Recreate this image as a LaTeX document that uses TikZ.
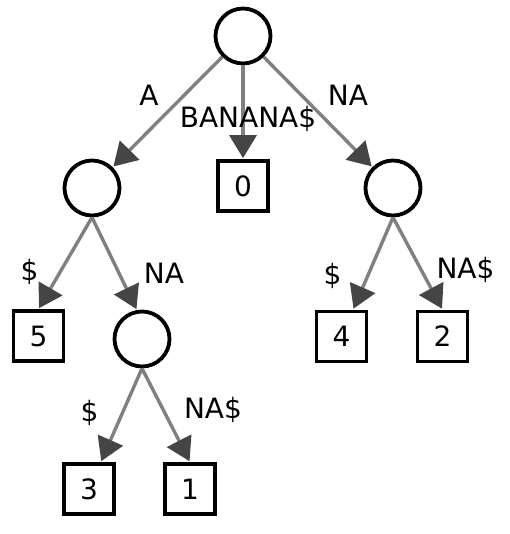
\documentclass[tikz,border=0pt]{standalone}
\usepackage{fontspec}
\setmainfont{DejaVu Sans}
\usetikzlibrary{arrows.meta}
\definecolor{edgegray}{gray}{0.5}
\definecolor{headgray}{gray}{0.27}

\begin{document}
\begin{tikzpicture}[x=1pt, y=-1pt,
    inner/.style={draw, circle, line width=3.8pt, minimum size=55pt, inner sep=0pt},
    leaf/.style={draw, rectangle, line width=3.8pt, minimum size=50pt, inner sep=0pt, font=\fontsize{28}{34}\selectfont},
    link/.style={draw=edgegray, line width=3.4pt, -{Triangle[length=23pt,width=27pt,color=headgray]}, shorten >=1pt},
    lab/.style={inner sep=0pt, text height=20.4pt, text depth=0pt, font=\fontsize{28}{34}\selectfont}]

	\useasboundingbox (0,0) rectangle (509,534);

%inner nodes
    \foreach \x/\y/\name in { 243/36/root, 92/188/nA, 393/188/nNA, 142/339/nANA} {
         \node[inner] (\name) at (\x,\y) {};
    }

%leaves
    \foreach \x/\y/\num/\name in { 243/186/0/s0, 38.5/336/5/s5, 341.5/336.5/4/s4, 442.5/336.5/2/s2, 89/489/3/s3, 190/489/1/s1} {
         \node[leaf] (\name) at (\x,\y) {\num};
    }

%edges
    \foreach \a/\b in { root/nA, root/s0, root/nNA} {
         \draw[link] (\a) -- (\b);
    }
    \foreach \a/\b in { nA/s5.north, nA/nANA.100, nNA/s4, nNA/s2.north, nANA/s3, nANA/s1.north} {
         \draw[link] (\a.south) -- (\b);
    }

%labels
    \foreach \x/\y/\txt/\name in { 149/95/A/lA, 248/117/BANANA\$/lBANANA, 348/95/NA/lNA,
        29.5/270/\$/lAs, 164/273/NA/lANA, 332.5/274/\$/lNAs, 465.5/268/NA\$/lNANA,
        89.5/411/\$/lANAs, 213/408/NA\$/lANANA} {
         \node[lab] (\name) at (\x,\y) {\txt};
    }

\end{tikzpicture}
\end{document}
